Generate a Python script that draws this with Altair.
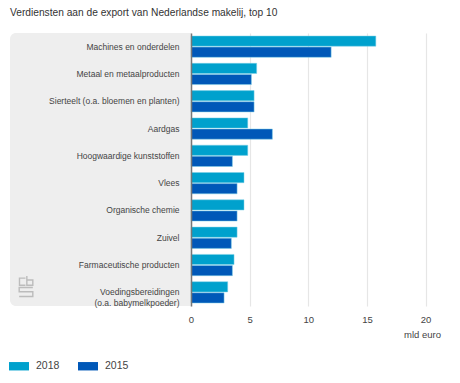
import altair as alt
import pandas as pd

categories = ["Machines en onderdelen", "Metaal en metaalproducten", "Sierteelt (o.a. bloemen en planten)",
              "Aardgas", "Hoogwaardige kunststoffen", "Vlees", "Organische chemie", "Zuivel",
              "Farmaceutische producten", "Voedingsbereidingen|(o.a. babymelkpoeder)"]
v2018 = [15.76, 5.6, 5.38, 4.84, 4.84, 4.52, 4.52, 3.93, 3.67, 3.13]
v2015 = [11.95, 5.15, 5.38, 6.94, 3.53, 3.93, 3.93, 3.44, 3.53, 2.82]
years = ["2018", "2015"]
colors = ["#00a1cd", "#0058b8"]
x_ticks = [0, 5, 10, 15, 20]
FONT = "Liberation Sans"

rows = []
for c, a, b in zip(categories, v2018, v2015):
    rows.append({"cat": c, "jaar": "2018", "v": a})
    rows.append({"cat": c, "jaar": "2015", "v": b})
df = pd.DataFrame(rows)

W, H = 258, 273
x_scale = alt.Scale(domain=[0, 22], nice=False)
y_scale = alt.Scale(domain=categories, paddingInner=0.22, paddingOuter=0.11)

panel = alt.Chart(pd.DataFrame({"a": [0]})).mark_rect(
    color="#eeeeee", cornerRadiusTopLeft=6, cornerRadiusBottomLeft=6
).encode(x=alt.value(-181), x2=alt.value(0), y=alt.value(0), y2=alt.value(H))

bars = alt.Chart(df).mark_bar(stroke="#7fd0e6", strokeWidth=0.5).encode(
    x=alt.X("v:Q", scale=x_scale,
            axis=alt.Axis(values=x_ticks, title="mld euro", titleX=231, titleY=28,
                          titleFont=FONT, titleFontSize=9.5, titleFontWeight="normal", titleColor="#444444",
                          titleAlign="center", titleBaseline="middle",
                          labelFont=FONT, labelFontSize=9.5, labelColor="#444444", labelPadding=8,
                          ticks=False, domain=False, grid=True, gridColor="#e6e6e6", gridWidth=1.2,
                          labelFlush=False)),
    y=alt.Y("cat:N", scale=y_scale, sort=categories,
            axis=alt.Axis(title=None, ticks=False, domain=True, domainColor="#777777", domainWidth=1.5,
                          labelFont=FONT, labelFontSize=8.5, labelColor="#444444", labelPadding=12,
                          labelLimit=180, labelLineHeight=11, zindex=1,
                          labelExpr="split(datum.label, '|')")),
    yOffset=alt.YOffset("jaar:N", sort=years, scale=alt.Scale(paddingInner=0.08)),
    color=alt.Color("jaar:N", sort=years, scale=alt.Scale(domain=years, range=colors),
                    legend=alt.Legend(orient="none", legendX=-182, legendY=323, direction="horizontal",
                                      title=None, columnPadding=18, labelFont=FONT, labelFontSize=10.5,
                                      labelColor="#444444", labelOffset=7, symbolStrokeWidth=0,
                                      symbolType="M-1,-0.42H1V0.42H-1Z", symbolSize=400, symbolOpacity=1)),
)

LOGO_SHAPE = ("M-0.05,-0.8H-0.62V-0.12H-0.05"
              "M0.08,-1V-0.12H0.65V-0.62H0.08"
              "M0.65,0.1H-0.65V0.5H0.65V0.95H-0.65")
logo = alt.Chart(pd.DataFrame({"a": [0]})).mark_point(
    shape=LOGO_SHAPE, size=440, filled=False, stroke="#bcbcbc", strokeWidth=1.4, opacity=1
).encode(x=alt.value(-165), y=alt.value(253.5))

chart = alt.layer(panel, bars, logo).properties(
    width=W, height=H,
    padding={"left": 183, "top": 25, "right": 1, "bottom": 69},
    autosize=alt.AutoSizeParams(type="none"),
    title=alt.TitleParams("Verdiensten aan de export van Nederlandse makelij, top 10", font=FONT, fontSize=10.2,
                          fontWeight="normal", color="#333333", anchor="start", align="left",
                          orient="none", frame="group", dx=-181, dy=-25),
).configure_view(stroke=None)

chart.save("out.html", embed_options={"renderer": "svg", "actions": False})
